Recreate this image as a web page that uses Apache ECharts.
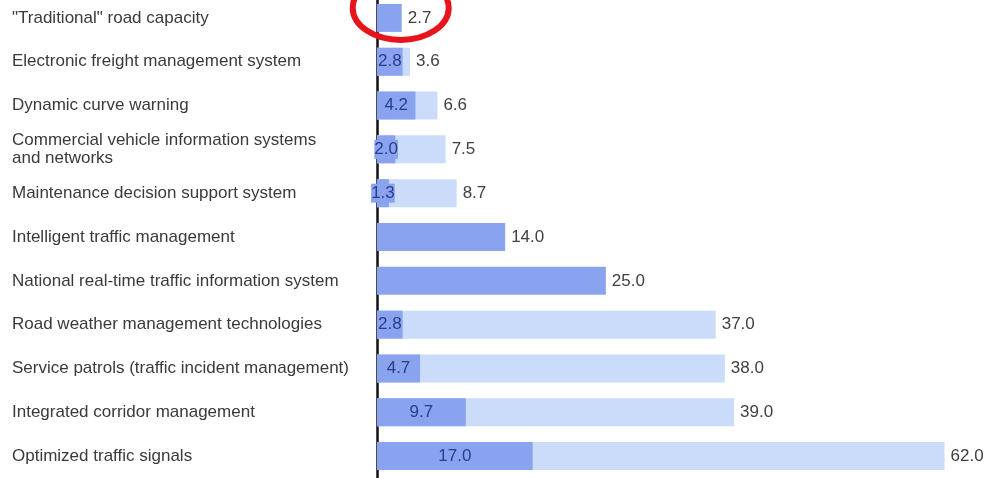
<!DOCTYPE html>
<html>
<head>
<meta charset="utf-8">
<script src="https://cdn.jsdelivr.net/npm/echarts@6/dist/echarts.min.js"></script>
<style>html,body{margin:0;padding:0;background:#fff;overflow:hidden;}#c{position:absolute;left:0;top:-4px;width:988px;height:482px;}</style>
</head>
<body>
<div id="c"></div>
<script>
var categories = [
  '"Traditional" road capacity',
  'Electronic freight management system',
  'Dynamic curve warning',
  'Commercial vehicle information systems\nand networks',
  'Maintenance decision support system',
  'Intelligent traffic management',
  'National real-time traffic information system',
  'Road weather management technologies',
  'Service patrols (traffic incident management)',
  'Integrated corridor management',
  'Optimized traffic signals'
];
var singleValues = [2.7, null, null, null, null, 14.0, 25.0, null, null, null, null];
var highValues = [null, 3.6, 6.6, 7.5, 8.7, null, null, 37.0, 38.0, 39.0, 62.0];
var lowValues = [null, 2.8, 4.2, 2.0, 1.3, null, null, 2.8, 4.7, 9.7, 17.0];

var DARK = '#8aa3ef', LIGHT = '#cadcf9';
var FONT = 'Liberation Sans, Arial, sans-serif';
var chart = echarts.init(document.getElementById('c'));
function fmt(p){ return p.value == null ? '' : Number(p.value).toFixed(1); }
chart.setOption({
  animation: false,
  grid: { left: 377, right: 16, top: 0, bottom: 0, containLabel: false },
  xAxis: { type: 'value', min: 0, max: 65, show: false },
  yAxis: {
    type: 'category', data: categories, inverse: true,
    axisLine: { show: true, lineStyle: { color: '#111', width: 2.5 } },
    axisTick: { show: false },
    axisLabel: { align: 'left', margin: 365, color: '#3a3a3a', fontFamily: FONT, fontSize: 17, lineHeight: 18 },
    splitLine: { show: false }
  },
  series: [
    { type: 'bar', data: highValues, barWidth: 28, barGap: '-100%', itemStyle: { color: LIGHT },
      label: { show: true, position: 'right', distance: 6, color: '#404040', fontFamily: FONT, fontSize: 17, formatter: fmt } },
    { type: 'bar', data: singleValues, barWidth: 28, barGap: '-100%', itemStyle: { color: DARK },
      label: { show: true, position: 'right', distance: 6, color: '#404040', fontFamily: FONT, fontSize: 17, formatter: fmt } },
    { type: 'bar', data: lowValues, barWidth: 28, barGap: '-100%', itemStyle: { color: DARK },
      label: { show: true, position: 'inside', color: '#2c3c8c', fontFamily: FONT, fontSize: 17,
        backgroundColor: DARK, padding: [1, 0], formatter: fmt } }
  ]
});
var p = chart.convertToPixel({ xAxisIndex: 0, yAxisIndex: 0 }, [singleValues[0], 0]);
chart.setOption({
  graphic: [{ type: 'ellipse', shape: { cx: p[0] - 1, cy: p[1] - 10, rx: 48, ry: 32 },
    style: { fill: 'none', stroke: '#e8141c', lineWidth: 6 }, z: 100 }]
});
</script>
</body>
</html>
